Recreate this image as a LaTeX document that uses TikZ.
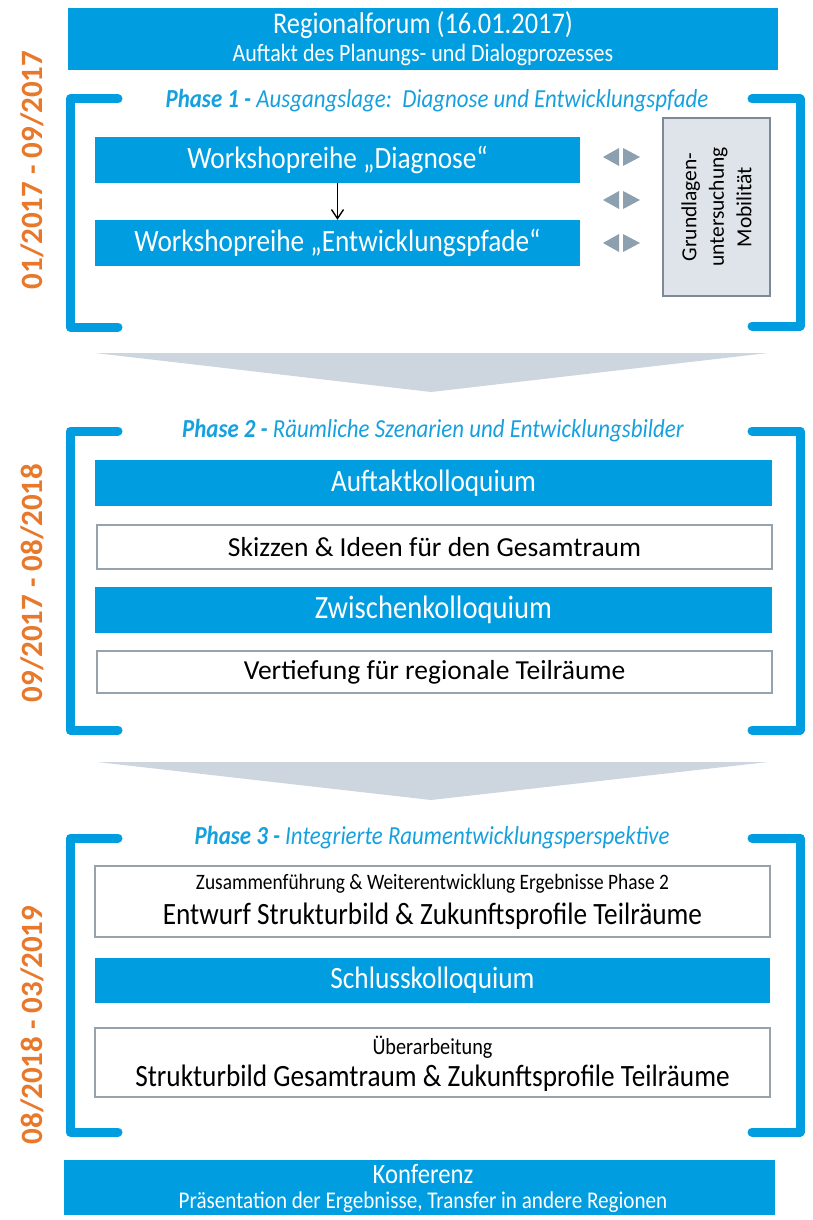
\documentclass[tikz,border=0pt]{standalone}
\usepackage{fontspec}
\setmainfont{Carlito}
\newfontfamily\condfont{Carlito}[FakeStretch=0.88]
\usetikzlibrary{positioning}
\usetikzlibrary{arrows.meta}

\definecolor{planblue}{RGB}{0,157,224}
\definecolor{titleblue}{RGB}{22,160,222}
\definecolor{dateorange}{RGB}{232,120,42}
\definecolor{chevgray}{RGB}{205,214,222}
\definecolor{mobfill}{RGB}{222,228,233}
\definecolor{mobline}{RGB}{125,138,150}
\definecolor{frameline}{RGB}{150,162,172}
\definecolor{trigray}{RGB}{140,160,175}

\tikzset{
  bluebox/.style={fill=planblue, inner sep=0pt},
  whitebox/.style={fill=white, draw=frameline, line width=1.6pt, inner sep=0pt},
  boxtext/.style={text=white, inner sep=0pt, font=\condfont\fontsize{31}{36}\selectfont},
  plaintext/.style={text=black, inner sep=0pt, font=\fontsize{27.5}{32}\selectfont},
  smalltext/.style={text=black, inner sep=0pt, font=\condfont\fontsize{22}{26}\selectfont},
  bracket/.style={draw=planblue, line width=9pt, line cap=round, line join=round},
  phasetitle/.style={text=titleblue, inner sep=0pt, font=\condfont\itshape\fontsize{26}{30}\selectfont},
  datelabel/.style={text=dateorange, rotate=90, inner sep=0pt, font=\bfseries\fontsize{31}{36}\selectfont},
  chevron/.style={fill=chevgray},
  tri/.style={fill=trigray},
}

\begin{document}
\begin{tikzpicture}[x=1pt, y=-1pt]
\useasboundingbox (0,0) rectangle (813,1220);

% Regionalforum
\node[bluebox, minimum width=710pt, minimum height=62pt] (forum) at (423,39) {};
\node[boxtext, font=\condfont\fontsize{30}{34}\selectfont] (forum-t) at (423,25) {Regionalforum (16.01.2017)};
\node[boxtext, font=\condfont\fontsize{25}{29}\selectfont] (forum-s) at (423,55) {Auftakt des Planungs- und Dialogprozesses};

% phase 1
\node[datelabel] (date1) at (32,170) {01/2017 - 09/2017};
\draw[bracket] (118,99) -- (70,99) -- (70,327) -- (118,327);
\draw[bracket] (752,99) -- (800,99) -- (800,326) -- (752,326);
\node[phasetitle] (ph1) at (437,101) {{\bfseries Phase 1 -} Ausgangslage:\ \ Diagnose und Entwicklungspfade};

\node[bluebox, minimum width=485pt, minimum height=46pt] (diag) at (337.5,160) {};
\node[boxtext] (diag-t) at (diag.center) {Workshopreihe „Diagnose“};
\node[bluebox, minimum width=485pt, minimum height=46pt] (entw) at (337.5,243) {};
\node[boxtext] (entw-t) at (entw.center) {Workshopreihe „Entwicklungspfade“};
\draw[-{Straight Barb[length=9pt,width=12pt]}, line width=1.4pt] (diag) -- (entw);

% Grundlagenuntersuchung
\node[fill=mobfill, draw=mobline, line width=1.6pt, rotate=90, minimum width=178pt, minimum height=107pt,
      align=center, font=\fontsize{21.5}{27.5}\selectfont] (mob) at (716.5,207) {Grundlagen-\\untersuchung\\Mobilität};
\fill[tri] (603,157) -- (619,148) -- (619,166) -- cycle;
\fill[tri] (640,157) -- (623,148) -- (623,166) -- cycle;
\fill[tri] (603,200) -- (619,191) -- (619,209) -- cycle;
\fill[tri] (640,200) -- (623,191) -- (623,209) -- cycle;
\fill[tri] (603,243) -- (619,234) -- (619,252) -- cycle;
\fill[tri] (640,243) -- (623,234) -- (623,252) -- cycle;

\fill[chevron] (95,353) -- (768,353) -- (431,392) -- cycle;

% phase 2
\node[datelabel] (date2) at (32,583) {09/2017 - 08/2018};
\draw[bracket] (118,431) -- (70,431) -- (70,730) -- (118,730);
\draw[bracket] (752,431) -- (800,431) -- (800,730) -- (752,730);
\node[phasetitle] (ph2) at (433,431) {{\bfseries Phase 2 -} Räumliche Szenarien und Entwicklungsbilder};

\node[bluebox, minimum width=677pt, minimum height=46pt] (auft) at (433.5,483) {};
\node[boxtext] (auft-t) at (auft.center) {Auftaktkolloquium};
\node[whitebox, minimum width=675pt, minimum height=44pt] (skiz) at (434.5,547) {};
\node[plaintext] (skiz-t) at (skiz.center) {Skizzen \& Ideen für den Gesamtraum};
\node[bluebox, minimum width=677pt, minimum height=46pt] (zwis) at (433.5,610) {};
\node[boxtext, font=\condfont\fontsize{32.5}{36}\selectfont] (zwis-t) at (zwis.center) {Zwischenkolloquium};
\node[whitebox, minimum width=675pt, minimum height=42pt] (vert) at (434.5,672) {};
\node[plaintext] (vert-t) at (vert.center) {Vertiefung für regionale Teilräume};

\fill[chevron] (97,762) -- (768,762) -- (431,800) -- cycle;

% phase 3
\node[datelabel] (date3) at (32,1025) {08/2018 - 03/2019};
\draw[bracket] (118,838) -- (70,838) -- (70,1132) -- (118,1132);
\draw[bracket] (752,838) -- (800,838) -- (800,1132) -- (752,1132);
\node[phasetitle] (ph3) at (432,838) {{\bfseries Phase 3 -} Integrierte Raumentwicklungsperspektive};

\node[whitebox, minimum width=675pt, minimum height=71pt] (entwurf) at (432.5,901.5) {};
\node[smalltext] (entwurf-s) at (432.5,884) {Zusammenführung \& Weiterentwicklung Ergebnisse Phase 2};
\node[boxtext, text=black] (entwurf-t) at (432.5,916) {Entwurf Strukturbild \& Zukunftsprofile Teilräume};
\node[bluebox, minimum width=675pt, minimum height=45pt] (schl) at (432.5,980.5) {};
\node[boxtext] (schl-t) at (schl.center) {Schlusskolloquium};
\node[whitebox, minimum width=675pt, minimum height=69pt] (ueber) at (432.5,1062.5) {};
\node[smalltext, font=\condfont\fontsize{23}{27}\selectfont] (ueber-s) at (432.5,1047) {Überarbeitung};
\node[boxtext, text=black] (ueber-t) at (432.5,1078) {Strukturbild Gesamtraum \& Zukunftsprofile Teilräume};

% Konferenz
\node[bluebox, minimum width=711pt, minimum height=55pt] (konf) at (419.5,1187.5) {};
\node[boxtext, font=\condfont\fontsize{28}{32}\selectfont] (konf-t) at (423,1174) {Konferenz};
\node[boxtext, font=\condfont\fontsize{24}{28}\selectfont] (konf-s) at (423,1202.5) {Präsentation der Ergebnisse, Transfer in andere Regionen};
\end{tikzpicture}
\end{document}
